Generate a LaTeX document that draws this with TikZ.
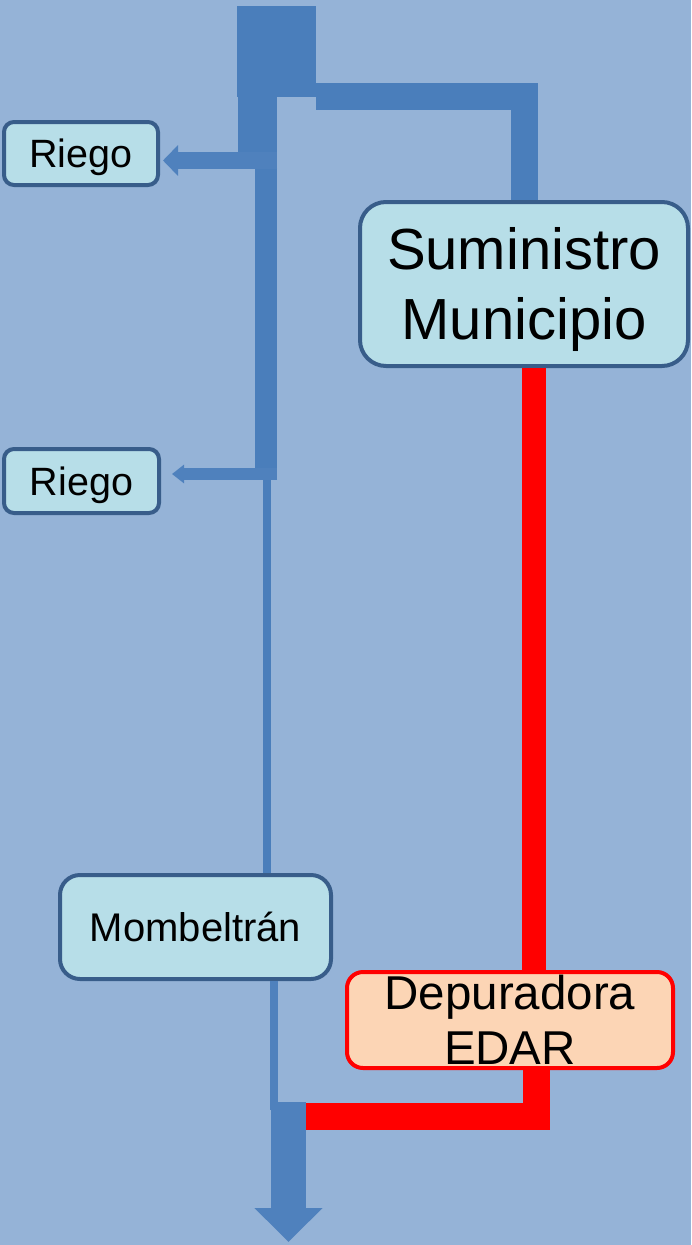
\documentclass[tikz,border=0pt]{standalone}
\usepackage{fontspec}
\setmainfont{Liberation Sans}
\usetikzlibrary{arrows.meta}
\definecolor{bg}{HTML}{95B3D7}
\definecolor{pipe}{HTML}{4A7EBB}
\definecolor{pipeb}{HTML}{4F81BD}
\definecolor{boxfill}{HTML}{B7DEE8}
\definecolor{boxline}{HTML}{385D8A}
\definecolor{edarfill}{HTML}{FCD5B5}
\begin{document}
\begin{tikzpicture}[x=1pt,y=-1pt,
  bluebox/.style={draw=boxline, line width=4pt, fill=boxfill, inner sep=0pt, align=center},
  redbox/.style={draw=red, line width=4pt, fill=edarfill, inner sep=0pt, align=center, rounded corners=16pt},
  bpipe/.style={draw=pipe, line cap=butt, line join=miter},
  rpipe/.style={draw=red, line cap=butt, line join=miter}]
\fill[bg] (0,0) rectangle (691,1245);
\useasboundingbox (0,0) rectangle (691,1245);

% boxes
\node[bluebox, rounded corners=10pt, minimum width=154pt, minimum height=63pt, text height=28pt, text depth=0pt, font=\fontsize{39.5}{45}\selectfont] (riego1) at (81,153.5) {Riego};
\node[bluebox, rounded corners=10pt, minimum width=155pt, minimum height=64pt, text height=28pt, text depth=0pt, font=\fontsize{39.5}{45}\selectfont] (riego2) at (81.5,481) {Riego};
\node[bluebox, rounded corners=26pt, minimum width=328pt, minimum height=164pt, font=\fontsize{58}{70}\selectfont] (sum) at (524,284) {Suministro\\Munici\smash{p}io};
\node[bluebox, rounded corners=20pt, minimum width=271pt, minimum height=104pt, text height=28pt, text depth=0pt, font=\fontsize{40}{45}\selectfont] (mom) at (195.5,927) {Mombeltrán};
\node[redbox, minimum width=326pt, minimum height=96pt, font=\fontsize{47.5}{55}\selectfont] (edar) at (510,1020) {Depuradora\\EDAR};

% source block
\node[fill=pipe, inner sep=0pt, minimum width=79pt, minimum height=91pt] (src) at (276.5,51.5) {};

% junction coordinates
\coordinate (j0) at (316,96.5);
\coordinate (jr) at (524,96.5);
\coordinate (ja) at (257.5,167);
\coordinate (jb) at (277,160.5);
\coordinate (jc) at (277,474);
\coordinate (jd) at (267,480);
\coordinate (je) at (274,1110);
\coordinate (jf) at (288.5,1102);
\coordinate (out) at (288.5,1242);
\coordinate (jg) at (536,1116);
\coordinate (jh) at (306,1116);

% blue pipes
\draw[bpipe, line width=27pt] (j0) -- (jr) -- (sum.north);
\draw[bpipe, line width=39pt] (src.south -| ja) -- (ja);
\draw[bpipe, line width=22pt] (266,160) -- (266,480);
\draw[draw=pipeb, line width=17pt, -{Triangle[length=15pt,width=30pt]}, shorten >=3pt] (jb) -- (riego1.east |- jb);
\draw[draw=pipeb, line width=12pt, -{Triangle[length=12pt,width=18pt]}, shorten >=11pt] (jc) -- (riego2.east |- jc);
\draw[bpipe, line width=8pt] (jd) -- (jd |- mom.north);
\draw[draw=pipeb, line width=8pt] (mom.south -| je) -- (je);
\draw[draw=pipeb, line width=35pt, -{Triangle[length=34pt,width=66pt]}] (jf) -- (out);

% red pipes
\draw[rpipe, line width=24pt] ([xshift=10]sum.south) -- ([xshift=24]edar.north);
\draw[rpipe, line width=27pt] (edar.south -| jg) -- (jg) -- (jh);
\end{tikzpicture}
\end{document}
